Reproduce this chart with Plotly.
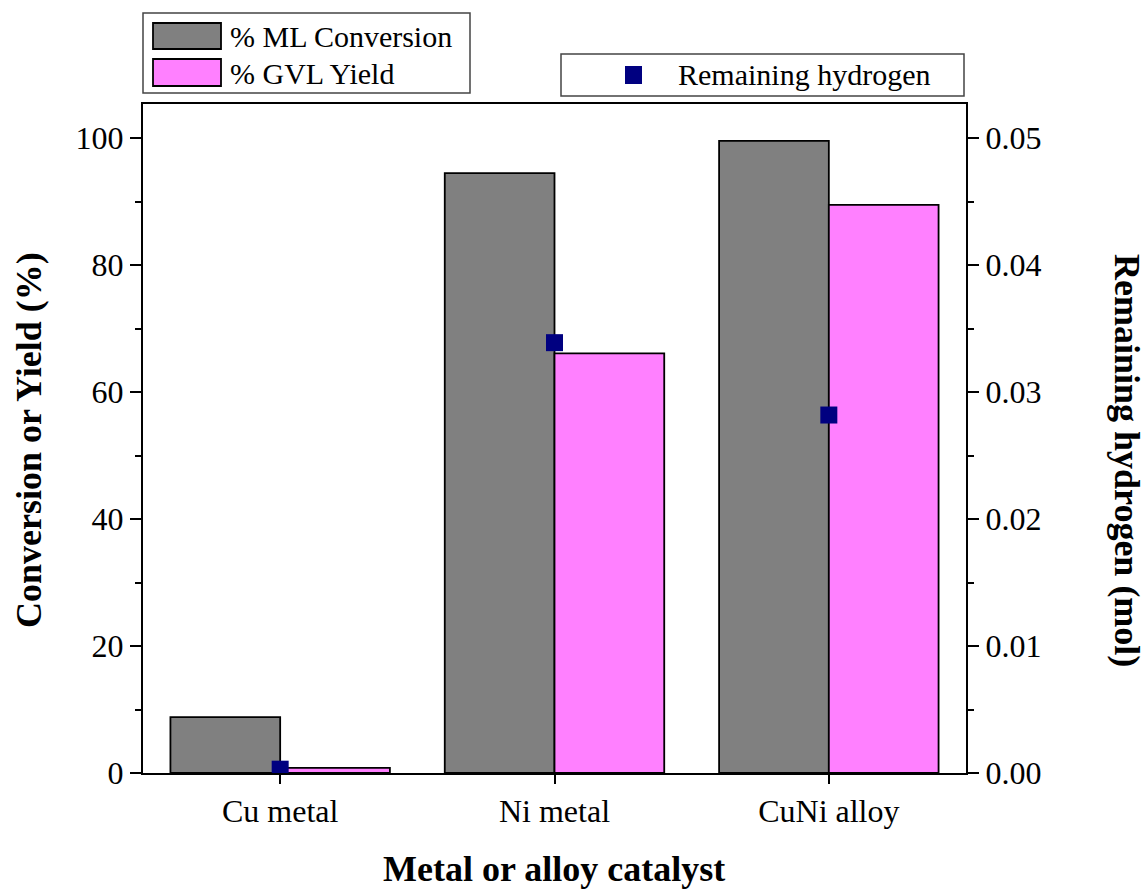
import plotly.graph_objects as go

# Catalyst categories and measured values
catalysts = ["Cu metal", "Ni metal", "CuNi alloy"]
ml_conversion = [8.8, 94.5, 99.6]        # % ML conversion
gvl_yield = [0.8, 66.1, 89.5]            # % GVL yield
remaining_h2 = [0.0003, 0.0339, 0.0282]  # mol

left_ticks = [0, 20, 40, 60, 80, 100]
right_ticks = [0.00, 0.01, 0.02, 0.03, 0.04, 0.05]

GRAY = "#808080"
PINK = "#FF80FF"
NAVY = "#000080"
FONT = "Liberation Serif, Times New Roman, serif"

W, H = 1146, 892
M_L, M_R, M_T, M_B = 143, 180, 104, 119
PW, PH = W - M_L - M_R, H - M_T - M_B


def px(x):
    return (x - M_L) / PW


def py(y):
    return (H - M_B - y) / PH


fig = go.Figure()
fig.add_trace(go.Bar(x=catalysts, y=ml_conversion, name="% ML Conversion",
                     marker=dict(color=GRAY, line=dict(color="black", width=1.8))))
fig.add_trace(go.Bar(x=catalysts, y=gvl_yield, name="% GVL Yield",
                     marker=dict(color=PINK, line=dict(color="black", width=1.8))))
fig.add_trace(go.Scatter(x=catalysts, y=remaining_h2, yaxis="y2", mode="markers",
                         name="Remaining hydrogen",
                         marker=dict(symbol="square", size=17, color=NAVY,
                                     line=dict(width=0))))

tickfont = dict(family=FONT, size=32, color="black")
titlefont = dict(family=FONT, size=36, color="black")

fig.update_layout(
    width=W, height=H,
    margin=dict(l=M_L, r=M_R, t=M_T, b=M_B),
    paper_bgcolor="white", plot_bgcolor="white",
    barmode="group", bargap=0.2, bargroupgap=0,
    showlegend=False,
    font=dict(family=FONT, color="black"),
    xaxis=dict(type="category", range=[-0.5, 2.5], showgrid=False,
               showline=True, linecolor="black", linewidth=2, mirror=True,
               ticks="outside", ticklen=9, tickwidth=2, tickcolor="black",
               tickfont=tickfont),
    yaxis=dict(range=[0, 105.4], tickvals=left_ticks, showgrid=False,
               zeroline=False, showline=True, linecolor="black", linewidth=2,
               ticks="outside", ticklen=11, tickwidth=2, tickcolor="black",
               minor=dict(ticks="outside", ticklen=6, tickwidth=2,
                          tickcolor="black", dtick=10, showgrid=False),
               tickfont=tickfont),
    yaxis2=dict(range=[0, 0.0527], overlaying="y", side="right",
                tickvals=right_ticks, tickformat=".2f", showgrid=False,
                zeroline=False, showline=True, linecolor="black", linewidth=2,
                ticks="outside", ticklen=11, tickwidth=2, tickcolor="black",
                minor=dict(ticks="outside", ticklen=6, tickwidth=2,
                           tickcolor="black", dtick=0.005, showgrid=False),
                tickfont=tickfont),
)

# Axis titles
fig.add_annotation(text="<b>Metal or alloy catalyst</b>", xref="paper", yref="paper",
                   x=px(554), y=py(869), xanchor="center", yanchor="middle",
                   showarrow=False, font=titlefont)
fig.add_annotation(text="<b>Conversion or Yield (%)</b>", xref="paper", yref="paper",
                   x=px(29), y=py(440), xanchor="center", yanchor="middle",
                   textangle=-90, showarrow=False, font=titlefont)
fig.add_annotation(text="<b>Remaining hydrogen (mol)</b>", xref="paper", yref="paper",
                   x=px(1127), y=py(460), xanchor="center", yanchor="middle",
                   textangle=90, showarrow=False, font=titlefont)

# Legend for the bar series
legend_font = dict(family=FONT, size=30, color="black")
shapes = [
    dict(type="rect", xref="paper", yref="paper", x0=px(143), x1=px(470),
         y0=py(93), y1=py(13), line=dict(color="#444", width=1.5),
         fillcolor="white", layer="above"),
    dict(type="rect", xref="paper", yref="paper", x0=px(153), x1=px(221),
         y0=py(49), y1=py(23), line=dict(color="black", width=1.8),
         fillcolor=GRAY, layer="above"),
    dict(type="rect", xref="paper", yref="paper", x0=px(153), x1=px(221),
         y0=py(86), y1=py(59), line=dict(color="black", width=1.8),
         fillcolor=PINK, layer="above"),
    # Legend for the hydrogen series
    dict(type="rect", xref="paper", yref="paper", x0=px(561), x1=px(964),
         y0=py(96), y1=py(54), line=dict(color="#444", width=1.5),
         fillcolor="white", layer="above"),
    dict(type="rect", xref="paper", yref="paper", x0=px(625), x1=px(642),
         y0=py(84), y1=py(66), line=dict(width=0),
         fillcolor=NAVY, layer="above"),
]
fig.update_layout(shapes=shapes)
for label, yc in [("% ML Conversion", 36), ("% GVL Yield", 73)]:
    fig.add_annotation(text=label, xref="paper", yref="paper", x=px(228), y=py(yc),
                       xanchor="left", yanchor="middle", showarrow=False,
                       font=legend_font)
fig.add_annotation(text="Remaining hydrogen", xref="paper", yref="paper",
                   x=px(676), y=py(75), xanchor="left", yanchor="middle",
                   showarrow=False, font=legend_font)

fig.write_html("out.html")
